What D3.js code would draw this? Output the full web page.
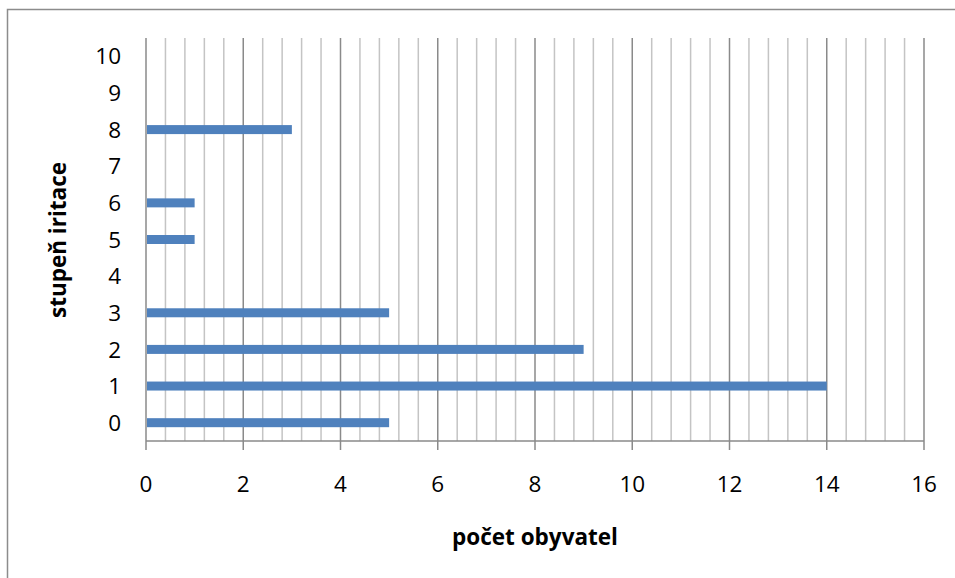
<!DOCTYPE html>
<meta charset="utf-8">
<style>

body {
  margin: 0;
  background: #fff;
}

text {
  font-family: "Open Sans", Lato, sans-serif;
  fill: #000;
}

.frame {
  fill: none;
  stroke: #8c8c8c;
  stroke-width: 1.5px;
}

.minor {
  stroke: #c4c4c4;
  stroke-width: 1.5px;
}

.major {
  stroke: #8a8a8a;
  stroke-width: 1.5px;
}

.bar {
  fill: #4f81bd;
}

.title {
  font-weight: bold;
  font-size: 22.5px;
}

</style>
<body>
<script src="https://d3js.org/d3.v7.min.js"></script>
<script>

var width = 955,
    height = 578;

// stupeň iritace -> počet obyvatel
var categories = ["0", "1", "2", "3", "4", "5", "6", "7", "8", "9", "10"];
var values = [5, 14, 9, 5, 0, 1, 1, 0, 3, 0, 0];
var xTicks = [0, 2, 4, 6, 8, 10, 12, 14, 16];

var margin = {left: 146, right: 31, top: 38, bottom: 137};

var svg = d3.select("body").append("svg")
    .attr("width", width)
    .attr("height", height);

// chart border, runs off the right and bottom edge
svg.append("rect")
    .attr("class", "frame")
    .attr("x", 7.5)
    .attr("y", 9.5)
    .attr("width", 960)
    .attr("height", 600);

var x = d3.scaleLinear()
    .domain([0, 16])
    .range([margin.left, width - margin.right]);

var y = d3.scaleBand()
    .domain(categories)
    .range([height - margin.bottom, margin.top]);

// minor gridlines every 0.4
var minor = d3.range(0, 16.001, 0.4).filter(function(d) {
  return Math.abs(d / 2 - Math.round(d / 2)) > 1e-6;
});

svg.selectAll(".minor")
    .data(minor)
  .enter().append("line")
    .attr("class", "minor")
    .attr("x1", function(d) { return x(d); })
    .attr("x2", function(d) { return x(d); })
    .attr("y1", margin.top)
    .attr("y2", height - margin.bottom);

svg.selectAll(".major")
    .data(xTicks)
  .enter().append("line")
    .attr("class", "major")
    .attr("x1", function(d) { return x(d); })
    .attr("x2", function(d) { return x(d); })
    .attr("y1", margin.top)
    .attr("y2", height - margin.bottom + 9);

// horizontal axis line
svg.append("line")
    .attr("class", "major")
    .attr("x1", x(0))
    .attr("x2", x(16))
    .attr("y1", height - margin.bottom)
    .attr("y2", height - margin.bottom);

var barH = 9;

svg.selectAll(".bar")
    .data(values)
  .enter().append("rect")
    .attr("class", "bar")
    .attr("x", x(0) + 1)
    .attr("y", function(d, i) { return y(categories[i]) + y.bandwidth() / 2 - barH / 2; })
    .attr("width", function(d) { return Math.max(0, x(d) - x(0) - 1); })
    .attr("height", barH);

// x tick labels
svg.selectAll(".xlab")
    .data(xTicks)
  .enter().append("text")
    .attr("class", "xlab")
    .attr("x", function(d) { return x(d); })
    .attr("y", 492)
    .attr("text-anchor", "middle")
    .style("font-size", "22.5px")
    .text(function(d) { return d; });

// y tick labels
svg.selectAll(".ylab")
    .data(categories)
  .enter().append("text")
    .attr("class", "ylab")
    .attr("x", 121)
    .attr("y", function(d) { return y(d) + y.bandwidth() / 2; })
    .attr("dy", "0.36em")
    .attr("text-anchor", "end")
    .style("font-size", "22.5px")
    .text(function(d) { return d; });

svg.append("text")
    .attr("class", "title")
    .attr("x", 535)
    .attr("y", 545)
    .attr("text-anchor", "middle")
    .text("počet obyvatel");

svg.append("text")
    .attr("class", "title")
    .attr("transform", "translate(66,240) rotate(-90)")
    .attr("text-anchor", "middle")
    .text("stupeň iritace");

</script>
